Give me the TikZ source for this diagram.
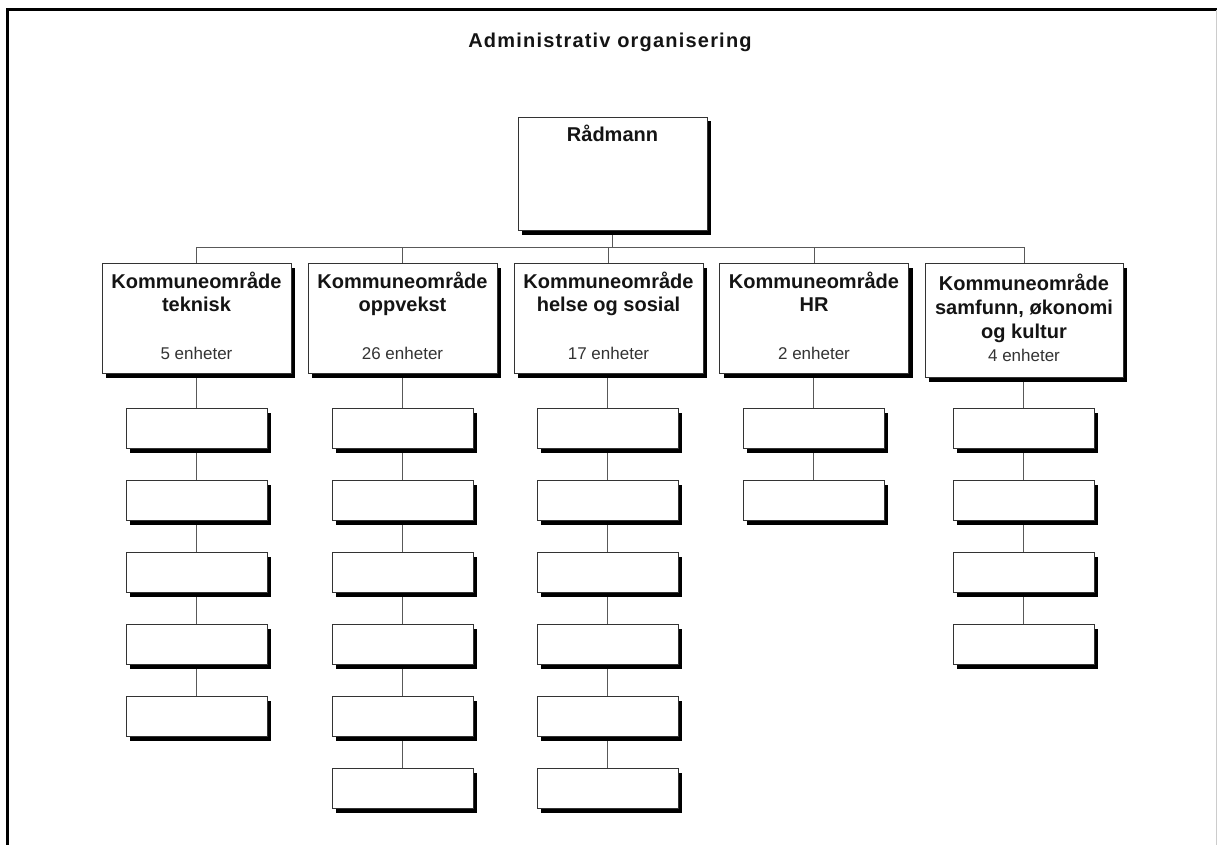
\documentclass[tikz,border=0pt]{standalone}
\usepackage{fontspec}
\setmainfont{Liberation Sans}
\newfontfamily\titlefont[LetterSpace=6]{Liberation Sans}
\usetikzlibrary{shadows,backgrounds}
\begin{document}
\begin{tikzpicture}[x=1pt,y=-1pt,
  box/.style={draw=black!80, line width=1pt, fill=white, inner sep=0pt,
    drop shadow={shadow xshift=4pt, shadow yshift=-4pt, fill=black, opacity=1}},
  lvltwo/.style={box, minimum width=189pt, minimum height=110pt, anchor=north},
  lvlthree/.style={box, minimum width=141pt, minimum height=40pt, anchor=north},
  conn/.style={draw=black!65, line width=1pt},
  boldtxt/.style={font=\fontsize{20}{24}\selectfont\bfseries, text=black!92, anchor=base, inner sep=0pt},
  subtxt/.style={font=\fontsize{17}{20}\selectfont, text=black!80, anchor=base, inner sep=0pt},
]
\useasboundingbox (0,0) rectangle (1217,845);
% frame
\draw[line width=3pt] (7,845) -- (7,10) -- (1217,10);
\draw[black!20, line width=1pt] (1216.5,10) -- (1216.5,845);

% title
\node[anchor=base, inner sep=0pt, font=\titlefont\fontsize{20}{24}\selectfont\bfseries, text=black!92] (title) at (610,48) {Administrativ organisering};

% top box
\node[box, minimum width=189pt, minimum height=113pt, anchor=north] (rad) at (612.5,117) {};
\node[boldtxt] (radt) at (612.5,142) {Rådmann};

% level two
\node[lvltwo] (k1) at (196.5,263) {};
\node[lvltwo] (k2) at (402.5,263) {};
\node[lvltwo] (k3) at (608.5,263) {};
\node[lvltwo] (k4) at (814,263) {};
\node[lvltwo, minimum width=198pt, minimum height=114pt] (k5) at (1024,263) {};

\node[boldtxt] (t1a) at (196.5,288) {Kommuneområde};
\node[boldtxt] (t1b) at (196.5,311) {teknisk};
\node[subtxt]  (t1c) at (196.5,359) {5 enheter};

\node[boldtxt] (t2a) at (402.5,288) {Kommuneområde};
\node[boldtxt] (t2b) at (402.5,311) {oppvekst};
\node[subtxt]  (t2c) at (402.5,359) {26 enheter};

\node[boldtxt] (t3a) at (608.5,288) {Kommuneområde};
\node[boldtxt] (t3b) at (608.5,311) {helse og sosial};
\node[subtxt]  (t3c) at (608.5,359) {17 enheter};

\node[boldtxt] (t4a) at (814,288) {Kommuneområde};
\node[boldtxt] (t4b) at (814,311) {HR};
\node[subtxt]  (t4c) at (814,359) {2 enheter};

\node[boldtxt] (t5a) at (1024,290) {Kommuneområde};
\node[boldtxt] (t5b) at (1024,314) {samfunn, økonomi};
\node[boldtxt] (t5c) at (1024,338) {og kultur};
\node[subtxt]  (t5d) at (1024,361) {4 enheter};

% level three
\foreach \c/\x/\n in {1/196.5/5, 2/402.5/6, 3/607.5/6, 4/813.5/2, 5/1023.5/4} {
  \foreach \j in {1,...,\n} {
    \node[lvlthree] (c\c-\j) at (\x,{408+72*(\j-1)}) {};
  }
}

% connectors
\begin{scope}[on background layer]
  \coordinate (bl) at (196.5,247);
  \coordinate (br) at (1024,247);
  \draw[conn] (bl) -- (br);
  \draw[conn] (rad.south) -- (rad.south |- bl);
  \foreach \c in {1,...,5} {
    \draw[conn] (k\c.north) -- (k\c.north |- bl);
  }
  \foreach \c/\n in {1/5, 2/6, 3/6, 4/2, 5/4} {
    \draw[conn] (c\c-1.north |- k\c.south) -- (c\c-1.north);
    \foreach \j in {2,...,\n} {
      \pgfmathtruncatemacro{\p}{\j-1}
      \draw[conn] (c\c-\p.south) -- (c\c-\j.north);
    }
  }
\end{scope}
\end{tikzpicture}
\end{document}
